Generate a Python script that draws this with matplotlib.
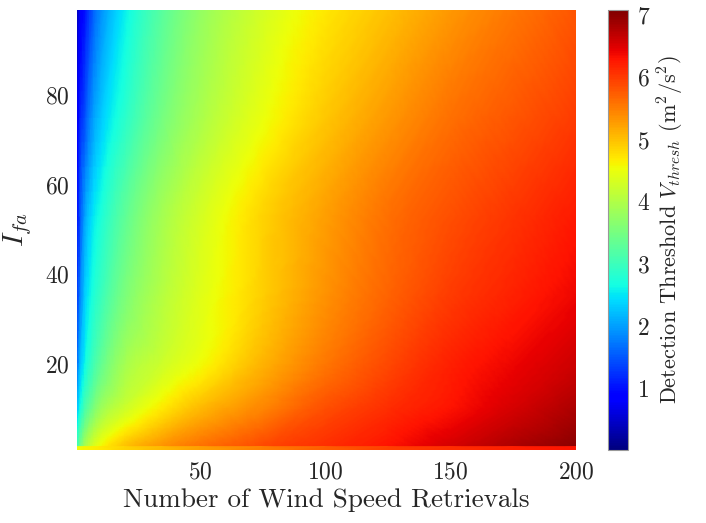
import matplotlib
matplotlib.use('Agg')
import matplotlib.pyplot as plt
import matplotlib.tri as mtri
import numpy as np

plt.rcParams['font.family'] = 'serif'
plt.rcParams['font.serif'] = ['cmr10']
plt.rcParams['mathtext.fontset'] = 'cm'
plt.rcParams['axes.formatter.use_mathtext'] = True
plt.rcParams['text.color'] = '#262626'
plt.rcParams['xtick.color'] = '#262626'
plt.rcParams['ytick.color'] = '#262626'
plt.rcParams['axes.labelcolor'] = '#262626'

# number of wind speed retrievals (columns) and I_fa (rows)
n_retrievals = [1, 2, 4, 7, 10, 20, 35, 50, 75, 100, 125, 150, 175, 200]
i_fa_rows = [1.5, 10, 20, 35, 53, 75, 99]

# threshold values, one list per I_fa row (bottom to top)
v_row_2 = [3.0, 3.4, 3.9, 4.3, 4.55, 5.0, 5.35, 5.6, 5.9, 6.1, 6.3, 6.55, 6.8, 7.0]
v_row_10 = [2.2, 2.6, 3.1, 3.5, 3.8, 4.25, 4.7, 5.05, 5.45, 5.85, 6.1, 6.3, 6.55, 6.8]
v_row_20 = [1.6, 2.1, 2.6, 3.0, 3.3, 3.9, 4.25, 4.55, 5.1, 5.55, 5.9, 6.2, 6.4, 6.6]
v_row_35 = [1.2, 1.7, 2.3, 2.7, 2.95, 3.55, 4.05, 4.4, 4.9, 5.35, 5.7, 6.0, 6.2, 6.4]
v_row_53 = [0.9, 1.4, 2.0, 2.45, 2.7, 3.3, 3.9, 4.3, 4.85, 5.25, 5.6, 5.85, 6.05, 6.25]
v_row_75 = [0.6, 1.05, 1.45, 1.95, 2.25, 2.85, 3.5, 3.95, 4.5, 4.95, 5.3, 5.6, 5.8, 6.0]
v_row_99 = [0.3, 0.7, 1.0, 1.5, 1.85, 2.55, 3.25, 3.75, 4.3, 4.7, 5.0, 5.3, 5.55, 5.8]

# the I_fa = 1 row stands apart from the rest
v_row_1 = [4.5, 4.55, 4.6, 4.65, 4.7, 4.85, 5.05, 5.25, 5.5, 5.75, 5.95, 6.1, 6.2, 6.3]

x_ticks = [50, 100, 150, 200]
y_ticks = [20, 40, 60, 80]
cbar_ticks = [1, 2, 3, 4, 5, 6, 7]

V = np.array([v_row_2, v_row_10, v_row_20, v_row_35, v_row_53, v_row_75, v_row_99])
vmin, vmax = 0.02, 7.08

fig = plt.figure(figsize=(7.06, 5.23), dpi=100)
ax = fig.add_axes([0.109, 0.140, 0.707, 0.841])
cax = fig.add_axes([0.861, 0.140, 0.029, 0.841])

# smooth surface: triangulate the grid and let matplotlib refine it
X, Y = np.meshgrid(n_retrievals, i_fa_rows)
tri = mtri.Triangulation(X.ravel(), Y.ravel())
interp = mtri.CubicTriInterpolator(tri, V.ravel(), kind='geom')
refiner = mtri.UniformTriRefiner(tri)
tri_f, v_f = refiner.refine_field(V.ravel(), triinterpolator=interp, subdiv=4)
mesh = ax.tripcolor(tri_f, v_f, shading='gouraud', cmap='jet', vmin=vmin, vmax=vmax)

# bottom row
Xb, Yb = np.meshgrid(n_retrievals, [0.5, 1.5])
ax.pcolormesh(Xb, Yb, np.array([v_row_1, v_row_1]), shading='gouraud',
              cmap='jet', vmin=vmin, vmax=vmax)

ax.set_xlim(1, 200)
ax.set_ylim(0.8, 99)
ax.set_xticks(x_ticks)
ax.set_yticks(y_ticks)
ax.tick_params(axis='x', length=0, labelsize=17, pad=8)
ax.tick_params(axis='y', length=0, labelsize=17, pad=5)
for s in ax.spines.values():
    s.set_visible(False)
ax.set_xlabel('Number of Wind Speed Retrievals', fontsize=19.5)
ax.set_ylabel(r'$I_{fa}$', fontsize=21, labelpad=8)

cb = fig.colorbar(mesh, cax=cax)
cb.set_ticks(cbar_ticks)
cb.ax.tick_params(length=0, labelsize=17, pad=6)
cb.outline.set_edgecolor('#999999')
cb.set_label(r'Detection Threshold $V_{thresh}$ (m$^2$/s$^2$)', fontsize=16)

fig.savefig('out.png', dpi=100)
